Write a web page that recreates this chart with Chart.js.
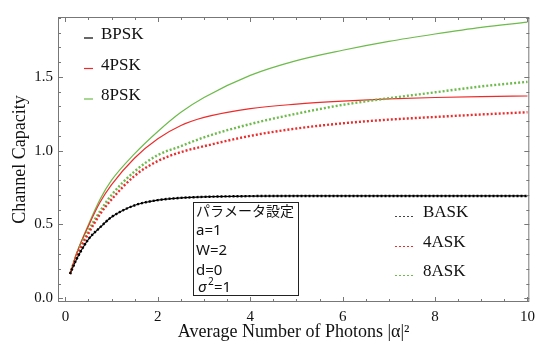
<!DOCTYPE html>
<html>
<head>
<meta charset="utf-8">
<script src="https://cdn.jsdelivr.net/npm/chart.js@4.4.1/dist/chart.umd.min.js"></script>
<style>
  html, body { margin: 0; padding: 0; background: #fff; }
</style>
</head>
<body>
<canvas id="capacityChart" width="541" height="347"></canvas>
<script>
// average photon number |alpha|^2
const photons = [0.1, 0.25, 0.5, 0.75, 1, 1.5, 2, 2.5, 3, 4, 5, 6, 7, 8, 9, 10];

// PSK (solid)
const bpsk = [0.165, 0.27, 0.40, 0.48, 0.55, 0.63, 0.665, 0.68, 0.687, 0.692, 0.693, 0.693, 0.693, 0.693, 0.693, 0.693];
const psk4 = [0.165, 0.31, 0.49, 0.65, 0.77, 0.95, 1.08, 1.17, 1.225, 1.285, 1.315, 1.335, 1.35, 1.36, 1.366, 1.37];
const psk8 = [0.165, 0.31, 0.50, 0.67, 0.80, 0.98, 1.13, 1.26, 1.36, 1.51, 1.61, 1.68, 1.74, 1.79, 1.835, 1.87];

// ASK (dotted)
const bask = [0.165, 0.27, 0.40, 0.48, 0.55, 0.63, 0.665, 0.68, 0.687, 0.692, 0.693, 0.693, 0.693, 0.693, 0.693, 0.693];
const ask4 = [0.165, 0.29, 0.44, 0.57, 0.67, 0.83, 0.93, 0.99, 1.03, 1.10, 1.15, 1.185, 1.21, 1.228, 1.245, 1.26];
const ask8 = [0.165, 0.30, 0.46, 0.59, 0.70, 0.86, 0.97, 1.03, 1.09, 1.18, 1.25, 1.31, 1.355, 1.395, 1.435, 1.466];

const xTicks = [0, 2, 4, 6, 8, 10];
const yTicks = [0, 0.5, 1.0, 1.5];

const RED = '#ee2b2b';
const GREEN = '#6dbb4b';
const SERIF = '"Liberation Serif", "DejaVu Serif", serif';

Chart.defaults.font.family = SERIF;

const pts = ys => photons.map((x, i) => ({ x: x, y: ys[i] }));

function solid(label, ys, color) {
    return { label, data: pts(ys), borderColor: color, borderWidth: 1.2,
             pointRadius: 0, fill: false, cubicInterpolationMode: 'monotone', order: 2 };
}
function dotted(label, ys, color) {
    return { label, data: pts(ys), borderColor: color, borderWidth: 2.4, borderDash: [2, 2],
             borderCapStyle: 'butt', pointRadius: 0, fill: false,
             cubicInterpolationMode: 'monotone', order: 1 };
}

// frame, inward ticks, legends and parameter box
const decorPlugin = {
    id: 'decor',
    afterDraw(chart) {
        const { ctx, chartArea: a, scales: { x, y } } = chart;
        ctx.save();
        ctx.strokeStyle = '#777';
        ctx.lineWidth = 1;
        ctx.strokeRect(a.left + 0.5, a.top + 0.5, a.right - a.left - 1, a.bottom - a.top - 1);

        const seg = (x1, y1, x2, y2) => { ctx.beginPath(); ctx.moveTo(x1, y1); ctx.lineTo(x2, y2); ctx.stroke(); };
        for (let k = 0; k <= 20; k++) {
            const v = k * 0.5;
            const len = k % 4 === 0 ? 5 : 3;
            const px = Math.round(x.getPixelForValue(v)) + 0.5;
            seg(px, a.bottom, px, a.bottom - len);
            seg(px, a.top, px, a.top + len);
        }
        for (let k = 0; k <= 19; k++) {
            const v = k * 0.1;
            const len = k % 5 === 0 ? 5 : 3;
            const py = Math.round(y.getPixelForValue(v)) + 0.5;
            seg(a.left, py, a.left + len, py);
            seg(a.right, py, a.right - len, py);
        }

        // left legend (solid)
        ctx.font = '17px ' + SERIF;
        ctx.textBaseline = 'middle';
        ctx.fillStyle = '#111';
        [['BPSK', '#000'], ['4PSK', RED], ['8PSK', GREEN]].forEach((it, i) => {
            const cy = 35 + i * 30.5;
            ctx.strokeStyle = it[1];
            ctx.lineWidth = 1.2;
            seg(84, cy + 3, 93, cy + 3);
            ctx.fillText(it[0], 101, cy);
        });

        // right legend (dotted)
        [['BASK', '#444'], ['4ASK', RED], ['8ASK', GREEN]].forEach((it, i) => {
            const cy = 213 + i * 29.5;
            const ly = Math.round(cy + 3) + 0.5;
            ctx.strokeStyle = it[1];
            ctx.lineWidth = 1;
            ctx.setLineDash([2, 2]);
            seg(395, ly, 413, ly);
            ctx.setLineDash([]);
            ctx.fillText(it[0], 423, cy);
        });

        // parameter box
        ctx.fillStyle = '#fff';
        ctx.fillRect(193, 202, 105, 93);
        ctx.strokeStyle = '#222';
        ctx.lineWidth = 1;
        ctx.strokeRect(193.5, 202.5, 105, 93);
        ctx.fillStyle = '#111';
        ctx.font = '14px "Noto Sans CJK JP", "Noto Sans", sans-serif';
        ctx.fillText('パラメータ設定', 196, 211);
        ctx.font = '15px "Noto Sans", sans-serif';
        ctx.fillText('a=1', 196, 231);
        ctx.fillText('W=2', 196, 251);
        ctx.fillText('d=0', 196, 271);
        ctx.font = 'italic 15px "Noto Sans", sans-serif';
        ctx.fillText('σ', 198, 288);
        ctx.font = '10px "Noto Sans", sans-serif';
        ctx.fillText('2', 208, 282);
        ctx.font = '15px "Noto Sans", sans-serif';
        ctx.fillText('=1', 214, 288);
        ctx.restore();
    }
};

new Chart(document.getElementById('capacityChart'), {
    type: 'line',
    data: {
        datasets: [
            solid('BPSK', bpsk, '#000'),
            solid('4PSK', psk4, RED),
            solid('8PSK', psk8, GREEN),
            dotted('BASK', bask, '#000'),
            dotted('4ASK', ask4, RED),
            dotted('8ASK', ask8, GREEN)
        ]
    },
    options: {
        responsive: false,
        animation: false,
        layout: { padding: { top: 17, right: 10, left: 0, bottom: 0 } },
        plugins: { legend: { display: false }, tooltip: { enabled: false } },
        scales: {
            x: {
                type: 'linear',
                min: -0.16,
                max: 10.04,
                grid: { display: false, drawTicks: false },
                border: { display: false },
                afterFit: s => { s.height = 45; },
                afterBuildTicks: s => { s.ticks = xTicks.map(v => ({ value: v })); },
                ticks: { color: '#111', padding: 6, font: { family: SERIF, size: 15 },
                         maxRotation: 0, callback: v => String(v) },
                title: { display: true, text: 'Average Number of Photons |α|²', color: '#111',
                         font: { family: SERIF, size: 18 }, padding: { top: 0, bottom: 4 } }
            },
            y: {
                min: -0.025,
                max: 1.905,
                grid: { display: false, drawTicks: false },
                border: { display: false },
                afterFit: s => { s.width = 58; },
                afterBuildTicks: s => { s.ticks = yTicks.map(v => ({ value: v })); },
                ticks: { color: '#111', padding: 5, font: { family: SERIF, size: 15 },
                         callback: v => v.toFixed(1) },
                title: { display: true, text: 'Channel Capacity', color: '#111',
                         font: { family: SERIF, size: 18 }, padding: { top: 9, bottom: 0 } }
            }
        }
    },
    plugins: [decorPlugin]
});
</script>
</body>
</html>
